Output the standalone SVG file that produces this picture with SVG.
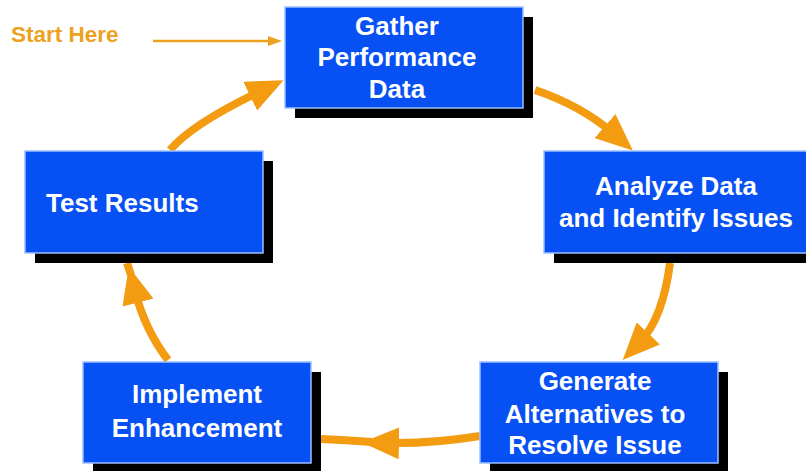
<svg xmlns="http://www.w3.org/2000/svg" width="806" height="471" viewBox="0 0 806 471">
  <style>
    .shadow { fill: #000000; }
    .box { fill: #0650f4; stroke: #9cc0ff; stroke-width: 1.5; }
    .label { font-family: "Liberation Sans", Arial, sans-serif; font-weight: bold; font-size: 26px; fill: #ffffff; text-anchor: middle; }
    .flow { fill: none; stroke: #f39c12; stroke-width: 8; }
    .start-text { font-family: "Liberation Sans", Arial, sans-serif; font-weight: bold; font-size: 22.5px; fill: #eca21e; }
    .start-line { fill: none; stroke: #eca21e; stroke-width: 2.5; }
  </style>
  <defs>
    <marker id="head" markerUnits="userSpaceOnUse" viewBox="0 0 37 32" markerWidth="37" markerHeight="32" refX="12" refY="16" orient="auto">
      <path d="M0,0 L37,16 L0,32 Z" fill="#f39c12"/>
    </marker>
    <marker id="small-head" markerUnits="userSpaceOnUse" viewBox="0 0 14 10" markerWidth="14" markerHeight="10" refX="2" refY="5" orient="auto">
      <path d="M0,0 L14,5 L0,10 Z" fill="#eca21e"/>
    </marker>
  </defs>

  <rect width="806" height="471" fill="#ffffff"/>

  <!-- entry point -->
  <g id="start">
    <text class="start-text" x="11" y="42">Start Here</text>
    <path class="start-line" d="M153,41 L270,41" marker-end="url(#small-head)"/>
  </g>

  <!-- cycle connectors -->
  <g id="connectors">
    <path class="flow" d="M535,90 Q582,106 614,134" marker-end="url(#head)"/>
    <path class="flow" d="M670,263 Q663,318 640,342" marker-end="url(#head)"/>
    <path class="flow" d="M480,436 Q430,444 387,443" marker-end="url(#head)"/>
    <path class="flow" d="M372,442 Q345,440 321,439"/>
    <path class="flow" d="M168,360 Q145,330 135,291" marker-end="url(#head)"/>
    <path class="flow" d="M131,275 L127,263"/>
    <path class="flow" d="M170,150 Q192,124 261,91" marker-end="url(#head)"/>
  </g>

  <g id="gather">
    <rect class="shadow" x="295" y="17" width="238" height="101"/>
    <rect class="box" x="285" y="7" width="238" height="101"/>
    <text class="label" x="397" y="35">Gather</text>
    <text class="label" x="397" y="66">Performance</text>
    <text class="label" x="397" y="98">Data</text>
  </g>

  <g id="analyze">
    <rect class="shadow" x="554" y="161" width="260" height="102"/>
    <rect class="box" x="544" y="151" width="270" height="102"/>
    <text class="label" x="676" y="195">Analyze Data</text>
    <text class="label" x="676" y="227">and Identify Issues</text>
  </g>

  <g id="generate">
    <rect class="shadow" x="490" y="372" width="238" height="110"/>
    <rect class="box" x="480" y="362" width="238" height="101"/>
    <text class="label" x="595" y="390">Generate</text>
    <text class="label" x="595" y="423">Alternatives to</text>
    <text class="label" x="595" y="454">Resolve Issue</text>
  </g>

  <g id="implement">
    <rect class="shadow" x="93" y="372" width="228" height="110"/>
    <rect class="box" x="83" y="362" width="228" height="101"/>
    <text class="label" x="197" y="403">Implement</text>
    <text class="label" x="197" y="437">Enhancement</text>
  </g>

  <g id="test">
    <rect class="shadow" x="35" y="161" width="238" height="102"/>
    <rect class="box" x="25" y="151" width="238" height="102"/>
    <text class="label" x="46" y="212" style="text-anchor: start">Test Results</text>
  </g>
</svg>
